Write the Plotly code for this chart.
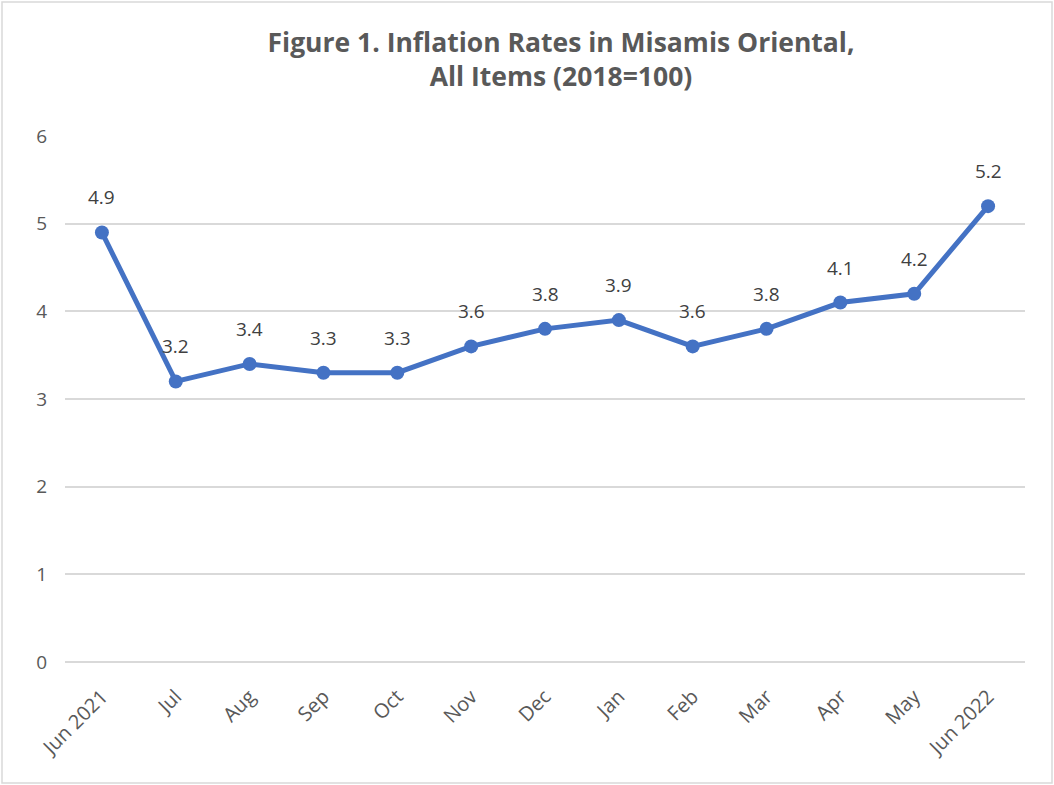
import plotly.graph_objects as go

months = ["Jun 2021", "Jul", "Aug", "Sep", "Oct", "Nov", "Dec", "Jan", "Feb", "Mar", "Apr", "May", "Jun 2022"]
rates = [4.9, 3.2, 3.4, 3.3, 3.3, 3.6, 3.8, 3.9, 3.6, 3.8, 4.1, 4.2, 5.2]
y_ticks = [0, 1, 2, 3, 4, 5, 6]

FONT = "Open Sans"
BLUE = "#4472C4"

fig = go.Figure()
fig.add_trace(go.Scatter(
    x=months, y=rates, mode="lines+markers",
    line=dict(color=BLUE, width=5),
    marker=dict(color=BLUE, size=14),
    hoverinfo="x+y", showlegend=False,
))

for m, v in zip(months, rates):
    fig.add_annotation(x=m, y=v, text=f"{v:.1f}", showarrow=False, yshift=35,
                       font=dict(family=FONT, size=19, color="#404040"))

W, H = 1054, 785
L, R, T, B = 65, 29, 136, 123
pw, ph = W - L - R, H - T - B

def px_to_paper_x(px):
    return (px - L) / pw

def px_to_paper_y(py):
    return (H - B - py) / ph

fig.add_shape(type="rect", xref="paper", yref="paper",
              x0=px_to_paper_x(2), x1=px_to_paper_x(1052),
              y0=px_to_paper_y(783), y1=px_to_paper_y(2),
              line=dict(color="#D9D9D9", width=1.5), layer="below")

fig.update_layout(
    width=W, height=H,
    margin=dict(l=L, r=R, t=T, b=B),
    paper_bgcolor="white", plot_bgcolor="white",
    title=dict(
        text="<b>Figure 1. Inflation Rates in Misamis Oriental,<br>All Items (2018=100)</b>",
        x=px_to_paper_x(561), xref="paper", xanchor="center",
        y=1 - 52 / H, yref="container", yanchor="middle",
        font=dict(family=FONT, size=26.5, color="#595959"),
    ),
    xaxis=dict(
        type="category", categoryorder="array", categoryarray=months,
        range=[-0.5, len(months) - 0.5],
        tickangle=-45, showgrid=False, showline=False, ticks="",
        tickfont=dict(family=FONT, size=20, color="#595959"),
        zeroline=False, ticklabelstandoff=18,
    ),
    yaxis=dict(
        range=[0, 6], tickvals=y_ticks, showgrid=True, gridcolor="#D9D9D9", gridwidth=1.5,
        zeroline=True, zerolinecolor="#D9D9D9", zerolinewidth=1.5,
        showline=False, ticks="", ticklabelstandoff=17,
        tickfont=dict(family=FONT, size=19, color="#595959"),
    ),
)

fig.write_html("out.html", post_script="document.body.style.margin='0';",
               config={"displayModeBar": False})
